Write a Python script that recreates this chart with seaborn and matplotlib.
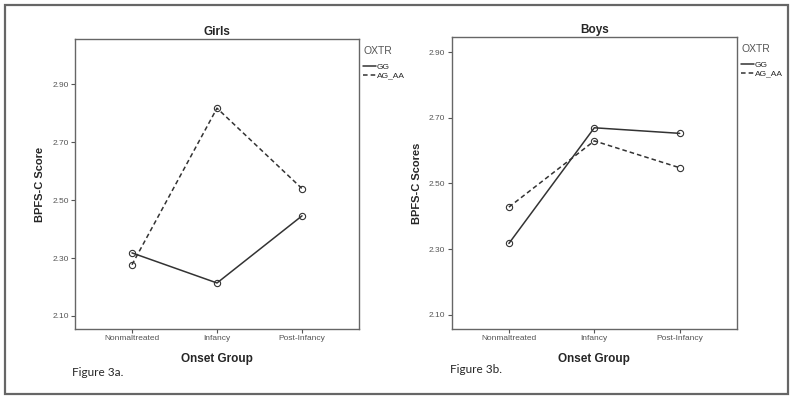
import pandas as pd
import matplotlib.pyplot as plt
import seaborn as sns
from matplotlib.lines import Line2D
from matplotlib.patches import Rectangle

# Values
onset_groups = ['Nonmaltreated', 'Infancy', 'Post-Infancy']
genotypes = ['GG', 'AG_AA']

girls_gg = [2.318, 2.214, 2.446]
girls_ag_aa = [2.277, 2.818, 2.540]
boys_gg = [2.317, 2.670, 2.653]
boys_ag_aa = [2.428, 2.630, 2.548]

y_ticks = [2.10, 2.30, 2.50, 2.70, 2.90]


def to_long(gg, ag_aa):
    return pd.DataFrame({
        'Onset Group': onset_groups * 2,
        'OXTR': ['GG'] * 3 + ['AG_AA'] * 3,
        'Score': gg + ag_aa,
    })


girls = to_long(girls_gg, girls_ag_aa)
boys = to_long(boys_gg, boys_ag_aa)

sns.set_style('white')
plt.rcParams['font.family'] = ['Liberation Sans', 'DejaVu Sans']

line_color = '#333333'
palette = {'GG': line_color, 'AG_AA': line_color}
dashes = {'GG': '', 'AG_AA': (3, 2)}

fig = plt.figure(figsize=(8, 4), dpi=100)
ax1 = fig.add_axes([0.09375, 0.1775, 0.355, 0.725])
ax2 = fig.add_axes([0.5646, 0.1775, 0.3566, 0.73])

panels = [
    (ax1, girls, 'Girls', 'BPFS-C Score', (2.055, 3.057), 'Figure 3a.', (-0.01, -0.13)),
    (ax2, boys, 'Boys', 'BPFS-C Scores', (2.056, 2.947), 'Figure 3b.', (-0.006, -0.12)),
]

for ax, df, title, ylabel, ylim, caption, cap_pos in panels:
    sns.lineplot(data=df, x='Onset Group', y='Score', hue='OXTR', style='OXTR',
                 palette=palette, dashes=dashes, markers={'GG': 'o', 'AG_AA': 'o'},
                 sort=False, legend=False, ax=ax, linewidth=1.1,
                 markersize=4.5, markerfacecolor='none', markeredgecolor=line_color,
                 markeredgewidth=0.8)
    ax.set_xlim(-0.67, 2.67)
    ax.set_ylim(*ylim)
    ax.set_yticks(y_ticks)
    ax.set_yticklabels([f'{v:.2f}' for v in y_ticks])
    ax.set_title(title, fontsize=8.5, fontweight='bold', pad=3)
    ax.set_ylabel(ylabel, fontsize=8, fontweight='bold', labelpad=5)
    ax.set_xlabel('Onset Group', fontsize=8.5, fontweight='bold', labelpad=8)
    ax.tick_params(axis='both', labelsize=6, labelcolor='#555555', length=3,
                   width=0.8, color='#555555', direction='out', pad=1.5)
    ax.tick_params(left=True, bottom=True)
    for spine in ax.spines.values():
        spine.set_color('#666666')
        spine.set_linewidth(1)

    handles = [Line2D([], [], color=line_color, lw=1.1, dashes=(None, None) if g == 'GG' else (3, 2))
               for g in genotypes]
    leg = ax.legend(handles, genotypes, title='OXTR', loc='upper left',
                    bbox_to_anchor=(0.995, 0.995), frameon=False, fontsize=6,
                    title_fontsize=7.5, handlelength=1.5, handletextpad=0.1,
                    labelspacing=0.1, borderpad=0.2)
    leg._legend_box.align = 'left'
    leg._legend_box.sep = 5
    leg.get_title().set_color('#555555')

    ax.text(cap_pos[0], cap_pos[1], caption, transform=ax.transAxes, fontsize=8.5,
            family=['Lato', 'DejaVu Sans'], va='top', ha='left')

fig.patches.append(Rectangle((0.00625, 0.015), 0.979, 0.9725, transform=fig.transFigure,
                             fill=False, edgecolor='#666666', linewidth=1.6))

fig.savefig('out.png', dpi=100)
